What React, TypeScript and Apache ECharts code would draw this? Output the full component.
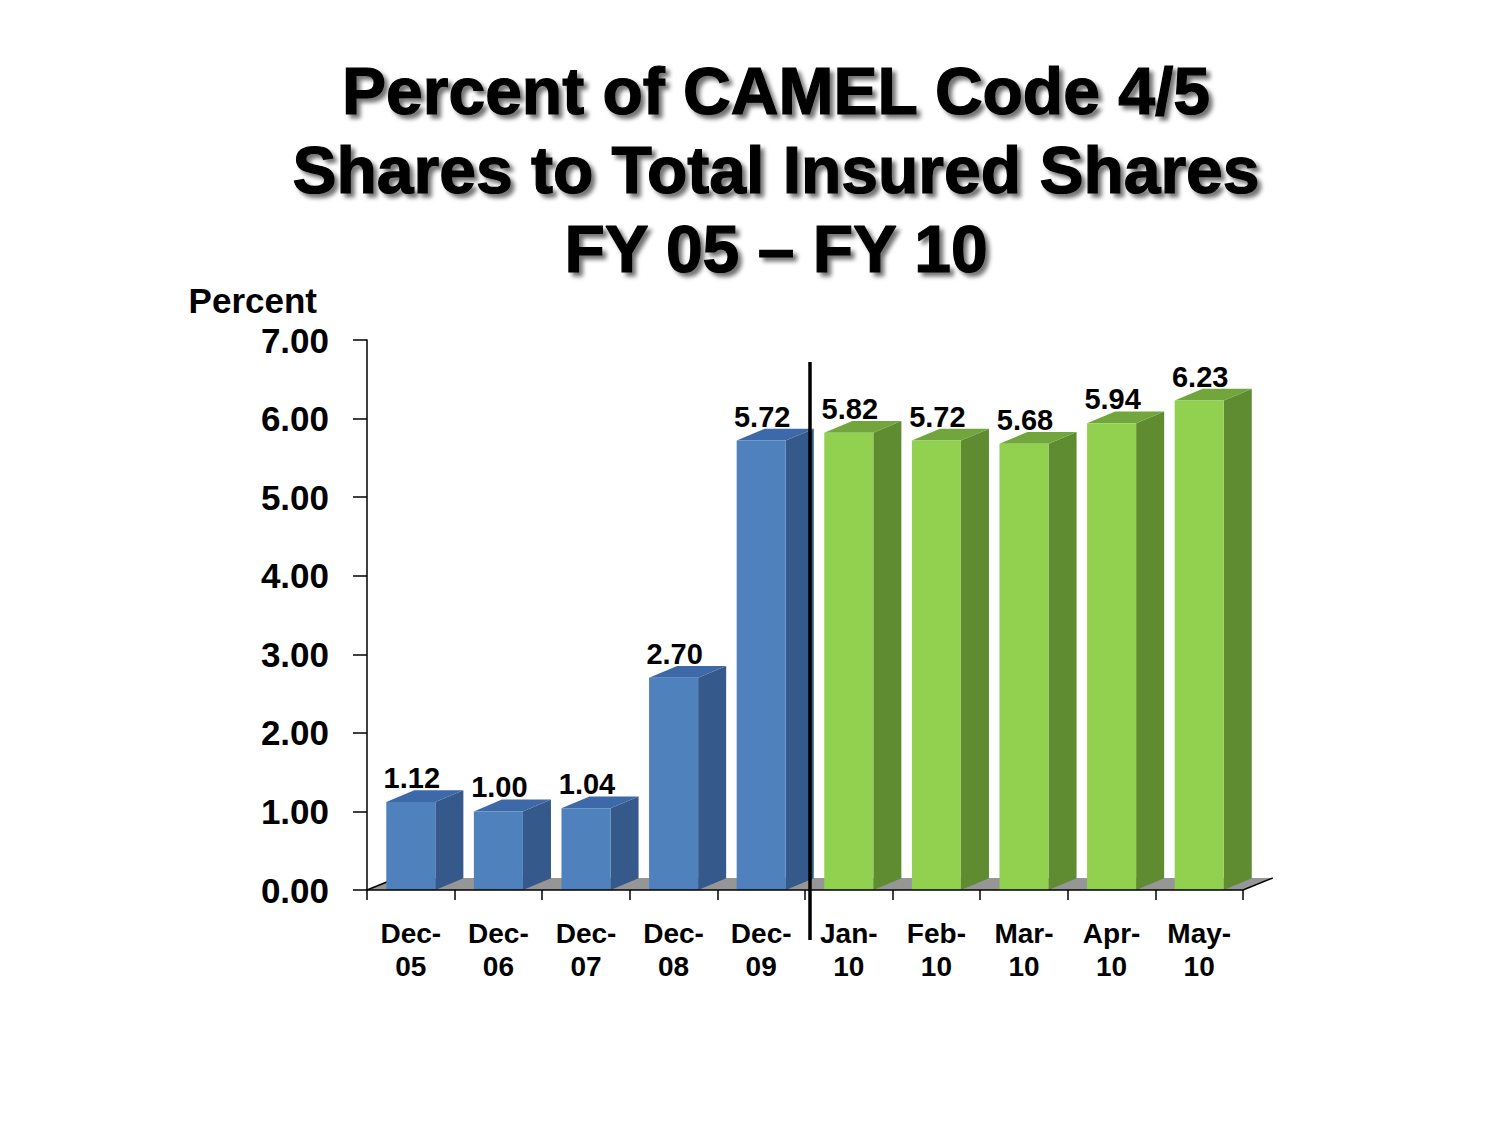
import React, { useEffect, useRef } from "react";
import * as echarts from "echarts";

const FONT = "'Liberation Sans', Arial, Helvetica, sans-serif";

const titleLines = [
  "Percent of CAMEL Code 4/5",
  "Shares to Total Insured Shares",
  "FY 05 \u2013 FY 10",
];
const yAxisName = "Percent";

const yearEndCategories = ["Dec-\n05", "Dec-\n06", "Dec-\n07", "Dec-\n08", "Dec-\n09"];
const monthCategories = ["Jan-\n10", "Feb-\n10", "Mar-\n10", "Apr-\n10", "May-\n10"];
const categories = [...yearEndCategories, ...monthCategories];

const yearEndValues = [1.12, 1.0, 1.04, 2.7, 5.72];
const monthValues = [5.82, 5.72, 5.68, 5.94, 6.23];

const yMin = 0;
const yMax = 7;
const yInterval = 1;

const blue = { front: "#4F81BD", side: "#35598A", top: "#3E69A8" };
const green = { front: "#92D050", side: "#5F8B31", top: "#72A63C" };

function makeBarRenderer(col: { front: string; side: string; top: string }) {
  return (params: any, api: any) => {
    const idx = api.value(0);
    const v = api.value(1);
    const top = api.coord([idx, v]);
    const base = api.coord([idx, 0]);
    const bw = api.size([1, 0])[0];
    const w = bw * 0.56;
    const dx = bw * 0.32;
    const dy = bw * 0.135;
    const x0 = top[0] - w / 2;
    const x1 = top[0] + w / 2;
    const yt = top[1];
    const yb = base[1];
    return {
      type: "group",
      children: [
        {
          type: "polygon",
          shape: { points: [[x1, yb], [x1 + dx, yb - dy], [x1 + dx, yt - dy], [x1, yt]] },
          style: { fill: col.side },
        },
        {
          type: "polygon",
          shape: { points: [[x0, yt], [x0 + dx, yt - dy], [x1 + dx, yt - dy], [x1, yt]] },
          style: { fill: col.top },
        },
        {
          type: "rect",
          shape: { x: x0, y: yt, width: w, height: yb - yt },
          style: { fill: col.front },
        },
        {
          type: "text",
          x: top[0] + 1,
          y: yt - 24,
          style: {
            text: v.toFixed(2),
            fontFamily: FONT,
            fontWeight: "bold",
            fontSize: 29,
            fill: "#000",
            align: "center",
            verticalAlign: "middle",
          },
        },
      ],
    };
  };
}

export default function App() {
  const ref = useRef<HTMLDivElement>(null);
  useEffect(() => {
    if (!ref.current) return;
    const chart = echarts.init(ref.current, undefined, { renderer: "svg" });
    const last = categories.length - 1;
    const option: any = {
      animation: false,
      backgroundColor: "#ffffff",
      title: titleLines.map((t, i) => ({
        text: t,
        left: 776,
        top: 91 + i * 79 - 35,
        textAlign: "center",
        padding: 0,
        textStyle: {
          fontFamily: FONT,
          fontWeight: "bold",
          fontSize: 66,
          lineHeight: 70,
          color: "#000",
          textBorderColor: "#000",
          textBorderWidth: 1.2,
          textShadowColor: "rgba(0,0,0,0.55)",
          textShadowBlur: 4,
          textShadowOffsetX: 4,
          textShadowOffsetY: 4,
        },
      })),
      grid: { left: 367, right: 257, top: 340, bottom: 235, containLabel: false },
      xAxis: {
        type: "category",
        data: categories,
        z: 5,
        axisLine: { show: true, lineStyle: { color: "#000", width: 1.5 } },
        axisTick: { show: true, length: 10, lineStyle: { color: "#000", width: 1.5 } },
        axisLabel: {
          interval: 0,
          margin: 27,
          fontFamily: FONT,
          fontWeight: "bold",
          fontSize: 28,
          lineHeight: 33,
          color: "#000",
        },
        splitLine: { show: false },
      },
      yAxis: {
        type: "value",
        min: yMin,
        max: yMax,
        interval: yInterval,
        name: yAxisName,
        nameLocation: "end",
        nameGap: 22,
        nameTextStyle: {
          fontFamily: FONT,
          fontWeight: "bold",
          fontSize: 35,
          color: "#000",
          align: "right",
          padding: [0, 50, 0, 0],
        },
        axisLine: { show: true, lineStyle: { color: "#000", width: 1.5 } },
        axisTick: { show: true, length: 14, lineStyle: { color: "#000", width: 1.5 } },
        axisLabel: {
          margin: 38,
          fontFamily: FONT,
          fontWeight: "bold",
          fontSize: 35,
          color: "#000",
          formatter: (v: number) => v.toFixed(2),
        },
        splitLine: { show: false },
      },
      series: [
        {
          type: "custom",
          name: "floor",
          z: 1,
          silent: true,
          clip: false,
          data: [[0, 0]],
          renderItem: (params: any, api: any) => {
            const bw = api.size([1, 0])[0];
            const left = api.coord([0, 0])[0] - bw / 2;
            const right = api.coord([last, 0])[0] + bw / 2;
            const y = api.coord([0, 0])[1];
            const dx = bw * 0.34;
            const dy = bw * 0.137;
            return {
              type: "group",
              children: [
                {
                  type: "polygon",
                  shape: { points: [[left, y], [left + dx, y - dy], [right + dx, y - dy], [right, y]] },
                  style: { fill: "#969696" },
                },
                {
                  type: "line",
                  shape: { x1: left, y1: y, x2: left + dx, y2: y - dy },
                  style: { stroke: "#000", lineWidth: 1.5 },
                },
                {
                  type: "line",
                  shape: { x1: right, y1: y, x2: right + dx, y2: y - dy },
                  style: { stroke: "#000", lineWidth: 1.5 },
                },
              ],
            };
          },
        },
        {
          type: "custom",
          name: "Year-end",
          z: 2,
          clip: false,
          data: yearEndValues.map((v, i) => [i, v]),
          encode: { x: 0, y: 1 },
          renderItem: makeBarRenderer(blue),
        },
        {
          type: "custom",
          name: "2010 monthly",
          z: 2,
          clip: false,
          data: monthValues.map((v, i) => [yearEndValues.length + i, v]),
          encode: { x: 0, y: 1 },
          renderItem: makeBarRenderer(green),
        },
        {
          type: "custom",
          name: "separator",
          z: 6,
          silent: true,
          clip: false,
          data: [[yearEndValues.length - 1, 0]],
          renderItem: (params: any, api: any) => {
            const a = api.coord([yearEndValues.length - 1, 0]);
            const b = api.coord([yearEndValues.length, 0]);
            const x = (a[0] + b[0]) / 2 + 5;
            const cs = params.coordSys;
            return {
              type: "line",
              shape: { x1: x, y1: cs.y + 22, x2: x, y2: cs.y + cs.height + 50 },
              style: { stroke: "#000", lineWidth: 3.5 },
            };
          },
        },
      ],
    };
    chart.setOption(option);
    return () => chart.dispose();
  }, []);
  return (
    <div
      ref={ref}
      style={{ position: "fixed", left: 0, top: 0, width: 1500, height: 1125, background: "#fff" }}
    />
  );
}
